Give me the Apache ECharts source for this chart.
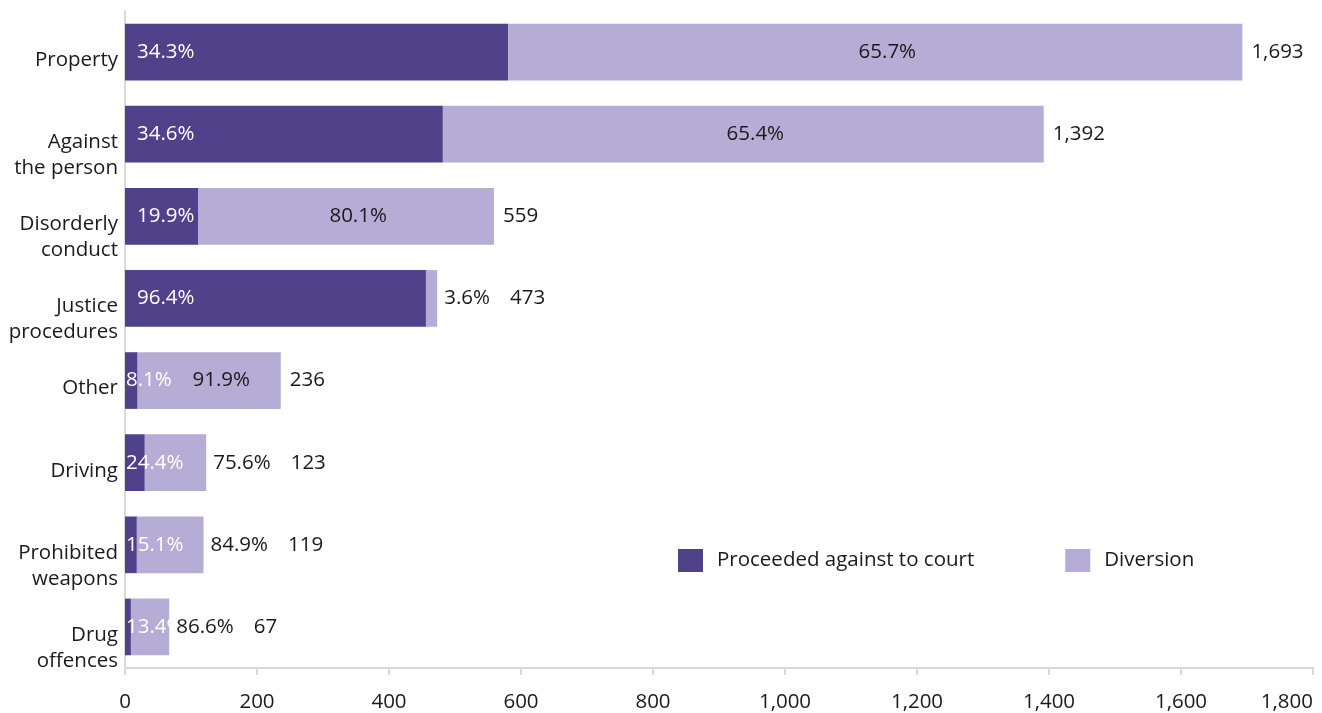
<!DOCTYPE html>
<html><head><meta charset="utf-8">
<script src="https://cdn.jsdelivr.net/npm/echarts@6/dist/echarts.min.js"></script>
<style>html,body{margin:0;padding:0;background:#fff}#chart{width:1322px;height:713px}</style>
</head><body><div id="chart"></div>
<script>
// ---- data ----
const categories = ['Property', 'Against\nthe person', 'Disorderly\nconduct', 'Justice\nprocedures', 'Other', 'Driving', 'Prohibited\nweapons', 'Drug\noffences'];
const totals = [1693, 1392, 559, 473, 236, 123, 119, 67];
const courtPct = [34.3, 34.6, 19.9, 96.4, 8.1, 24.4, 15.1, 13.4];
const diversionPct = [65.7, 65.4, 80.1, 3.6, 91.9, 75.6, 84.9, 86.6];
const seriesNames = ['Proceeded against to court', 'Diversion'];
const xMin = 0, xMax = 1800, xInterval = 200;

// ---- style ----
const DARK = '#4f428b', LIGHT = '#b5add5', TEXT = '#1a1a1a', AXIS = '#d9d9d9';
const FONT = '"Open Sans", "Noto Sans", sans-serif';
const FS = 20.5;

const courtVals = totals.map((t, i) => t * courtPct[i] / 100);
const divVals = totals.map((t, i) => t * diversionPct[i] / 100);
const lightOutside = divVals.map(v => v < 150);
const LIGHT_DIST = 7;

const ctx = document.createElement('canvas').getContext('2d');
ctx.font = FS + 'px ' + FONT;
const tw = s => ctx.measureText(s).width;
const fmtNum = n => n.toLocaleString('en-US');

const chart = echarts.init(document.getElementById('chart'), null, {renderer: 'canvas'});
chart.setOption({
  animation: false,
  textStyle: {fontFamily: FONT},
  grid: {left: 125, right: 9, top: 11, bottom: 45},
  legend: {
    left: 673, top: 544, icon: 'rect', itemWidth: 25, itemHeight: 23, itemGap: 91,
    data: seriesNames,
    textStyle: {fontSize: FS, color: TEXT, fontFamily: FONT, padding: [0, 0, 0, 9]}
  },
  xAxis: {
    type: 'value', min: xMin, max: xMax, interval: xInterval,
    splitLine: {show: false},
    axisLine: {show: true, lineStyle: {color: AXIS, width: 2}},
    axisTick: {show: true, length: 7, lineStyle: {color: AXIS, width: 2}},
    axisLabel: {
      fontSize: FS, color: TEXT, fontFamily: FONT, margin: 24, lineHeight: 20,
      alignMaxLabel: 'right',
      formatter: v => fmtNum(v)
    }
  },
  yAxis: {
    type: 'category', data: categories, inverse: true,
    axisLine: {show: true, lineStyle: {color: AXIS, width: 2}},
    axisTick: {show: false},
    axisLabel: {
      interval: 0, showMinLabel: true, showMaxLabel: true, hideOverlap: false,
      fontSize: FS, color: TEXT, fontFamily: FONT, margin: 7,
      align: 'right', verticalAlign: 'top',
      formatter: v => {
        const parts = v.split('\n');
        return '{a|' + parts[0] + '}' + (parts[1] ? '\n{b|' + parts[1] + '}' : '');
      },
      rich: {
        a: {fontSize: FS, color: TEXT, fontFamily: FONT, lineHeight: 16, align: 'right'},
        b: {fontSize: FS, color: TEXT, fontFamily: FONT, lineHeight: 36, align: 'right'}
      }
    }
  },
  series: [
    {
      name: seriesNames[0], type: 'bar', stack: 'all', barCategoryGap: '31%',
      itemStyle: {color: DARK},
      data: courtVals.map((v, i) => ({
        value: v,
        label: {
          show: true, position: 'insideLeft', distance: v >= 60 ? 12 : 1,
          color: '#ffffff', fontSize: FS, fontFamily: FONT,
          formatter: () => courtPct[i].toFixed(1) + '%'
        }
      }))
    },
    {
      name: seriesNames[1], type: 'bar', stack: 'all', barCategoryGap: '31%',
      itemStyle: {color: LIGHT},
      data: divVals.map((v, i) => ({
        value: v,
        label: lightOutside[i]
          ? {show: true, position: 'right', distance: LIGHT_DIST, color: TEXT, fontSize: FS, fontFamily: FONT,
             formatter: () => diversionPct[i].toFixed(1) + '%'}
          : {show: true, position: 'inside', offset: [12, 0], color: TEXT, fontSize: FS, fontFamily: FONT,
             formatter: () => diversionPct[i].toFixed(1) + '%'}
      }))
    },
    {
      name: 'totals', type: 'custom', z: 10, clip: false,
      encode: {x: 0, y: 1},
      data: totals.map((t, i) => [t, i]),
      renderItem: (params, api) => {
        const i = params.dataIndex;
        const p = api.coord([api.value(0), api.value(1)]);
        let x = p[0] + 9;
        if (lightOutside[i]) x = p[0] + LIGHT_DIST + tw(diversionPct[i].toFixed(1) + '%') + 20;
        return {
          type: 'text', x: x, y: p[1],
          style: {text: fmtNum(totals[i]), fill: TEXT, font: FS + 'px ' + FONT, align: 'left', verticalAlign: 'middle'}
        };
      }
    }
  ]
});
</script></body></html>
